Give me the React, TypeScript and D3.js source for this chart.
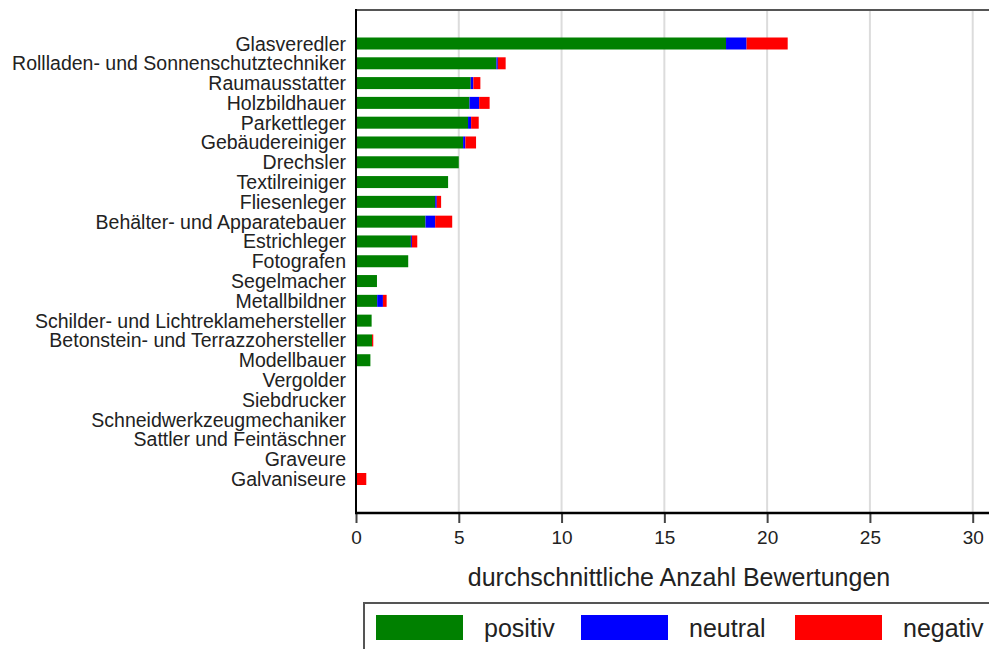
import * as d3 from "d3";
import { useEffect, useRef } from "react";

// categories top to bottom
const categories = [
  "Glasveredler",
  "Rollladen- und Sonnenschutztechniker",
  "Raumausstatter",
  "Holzbildhauer",
  "Parkettleger",
  "Gebäudereiniger",
  "Drechsler",
  "Textilreiniger",
  "Fliesenleger",
  "Behälter- und Apparatebauer",
  "Estrichleger",
  "Fotografen",
  "Segelmacher",
  "Metallbildner",
  "Schilder- und Lichtreklamehersteller",
  "Betonstein- und Terrazzohersteller",
  "Modellbauer",
  "Vergolder",
  "Siebdrucker",
  "Schneidwerkzeugmechaniker",
  "Sattler und Feintäschner",
  "Graveure",
  "Galvaniseure",
];

const positiv = [18, 6.83, 5.58, 5.52, 5.45, 5.21, 5.0, 4.48, 3.85, 3.38, 2.67, 2.54, 1.02, 1.03, 0.76, 0.78, 0.7, 0, 0, 0, 0, 0, 0];
const neutral = [1, 0.07, 0.13, 0.47, 0.15, 0.11, 0, 0, 0.08, 0.47, 0.05, 0, 0, 0.28, 0, 0, 0, 0, 0, 0, 0, 0, 0];
const negativ = [2, 0.38, 0.34, 0.51, 0.37, 0.52, 0, 0, 0.21, 0.83, 0.26, 0, 0, 0.18, 0, 0.06, 0, 0, 0, 0, 0, 0, 0.5];

const xTicks = [0, 5, 10, 15, 20, 25, 30];
const seriesNames = ["positiv", "neutral", "negativ"];
const seriesColors = ["#008000", "#0000ff", "#ff0000"];

export default function App() {
  const svgRef = useRef(null);

  useEffect(() => {
    const width = 989;
    const height = 649;
    const left = 356;
    const top = 10;
    const bottom = 513;

    const svg = d3.select(svgRef.current);
    svg.selectAll("*").remove();
    svg
      .attr("width", width)
      .attr("height", height)
      .style("display", "block")
      .style("position", "absolute")
      .style("left", "0px")
      .style("top", "0px");

    const font = "'Liberation Sans', Arial, sans-serif";

    //scales
    const x = d3.scaleLinear().domain([0, 30]).range([left, 972.7]);
    const y = d3
      .scalePoint()
      .domain(categories)
      .range([43.5, 479]);

    //grid
    svg
      .append("g")
      .selectAll("line")
      .data(xTicks.filter((t) => t > 0))
      .enter()
      .append("line")
      .attr("x1", (d) => x(d))
      .attr("x2", (d) => x(d))
      .attr("y1", top)
      .attr("y2", bottom)
      .attr("stroke", "#dcdcdc")
      .attr("stroke-width", 2);

    //stacked bars
    const rows = categories.map((c, i) => ({
      cat: c,
      positiv: positiv[i],
      neutral: neutral[i],
      negativ: negativ[i],
    }));
    const stacked = d3.stack().keys(seriesNames)(rows);
    const barH = 12;

    svg
      .append("g")
      .selectAll("g")
      .data(stacked)
      .enter()
      .append("g")
      .attr("fill", (d, i) => seriesColors[i])
      .selectAll("rect")
      .data((d) => d.filter((p) => p[1] - p[0] > 0))
      .enter()
      .append("rect")
      .attr("x", (d) => x(d[0]))
      .attr("width", (d) => x(d[1]) - x(d[0]))
      .attr("y", (d) => y(d.data.cat) - barH / 2)
      .attr("height", barH);

    //frame
    svg
      .append("line")
      .attr("x1", left)
      .attr("x2", width)
      .attr("y1", top)
      .attr("y2", top)
      .attr("stroke", "#555")
      .attr("stroke-width", 2);
    svg
      .append("line")
      .attr("x1", left)
      .attr("x2", left)
      .attr("y1", top - 1)
      .attr("y2", bottom)
      .attr("stroke", "#000")
      .attr("stroke-width", 2);

    //x axis
    const xAxis = d3
      .axisBottom(x)
      .tickValues(xTicks)
      .tickSize(10)
      .tickPadding(8)
      .tickFormat(d3.format("d"));
    const gx = svg.append("g").attr("transform", `translate(0,${bottom})`).call(xAxis);
    gx.select(".domain").remove();
    gx.selectAll(".tick line").attr("stroke", "#444").attr("stroke-width", 2);
    gx.selectAll(".tick text")
      .attr("font-family", font)
      .attr("font-size", 19)
      .attr("fill", "#222");
    svg
      .append("line")
      .attr("x1", left - 1)
      .attr("x2", width)
      .attr("y1", bottom)
      .attr("y2", bottom)
      .attr("stroke", "#000")
      .attr("stroke-width", 2.5);

    //category labels
    svg
      .append("g")
      .selectAll("text")
      .data(categories)
      .enter()
      .append("text")
      .attr("x", 346)
      .attr("y", (d) => y(d))
      .attr("dy", "0.36em")
      .attr("text-anchor", "end")
      .attr("font-family", font)
      .attr("font-size", 19.5)
      .attr("fill", "#222")
      .text((d) => d);

    //axis title
    svg
      .append("text")
      .attr("x", 679)
      .attr("y", 586)
      .attr("text-anchor", "middle")
      .attr("font-family", font)
      .attr("font-size", 25)
      .attr("fill", "#222")
      .text("durchschnittliche Anzahl Bewertungen");

    //legend
    const legend = svg.append("g");
    legend
      .append("rect")
      .attr("x", 364)
      .attr("y", 603)
      .attr("width", 640)
      .attr("height", 60)
      .attr("fill", "none")
      .attr("stroke", "#555")
      .attr("stroke-width", 2);
    const legendX = [376, 581, 795];
    const item = legend
      .selectAll("g.item")
      .data(seriesNames)
      .enter()
      .append("g")
      .attr("transform", (d, i) => `translate(${legendX[i]},615)`);
    item
      .append("rect")
      .attr("width", 87)
      .attr("height", 25)
      .attr("fill", (d, i) => seriesColors[i]);
    item
      .append("text")
      .attr("x", 108)
      .attr("y", 12.5)
      .attr("dy", "0.36em")
      .attr("font-family", font)
      .attr("font-size", 25)
      .attr("fill", "#222")
      .text((d) => d);
  }, []);

  return <svg ref={svgRef}></svg>;
}
